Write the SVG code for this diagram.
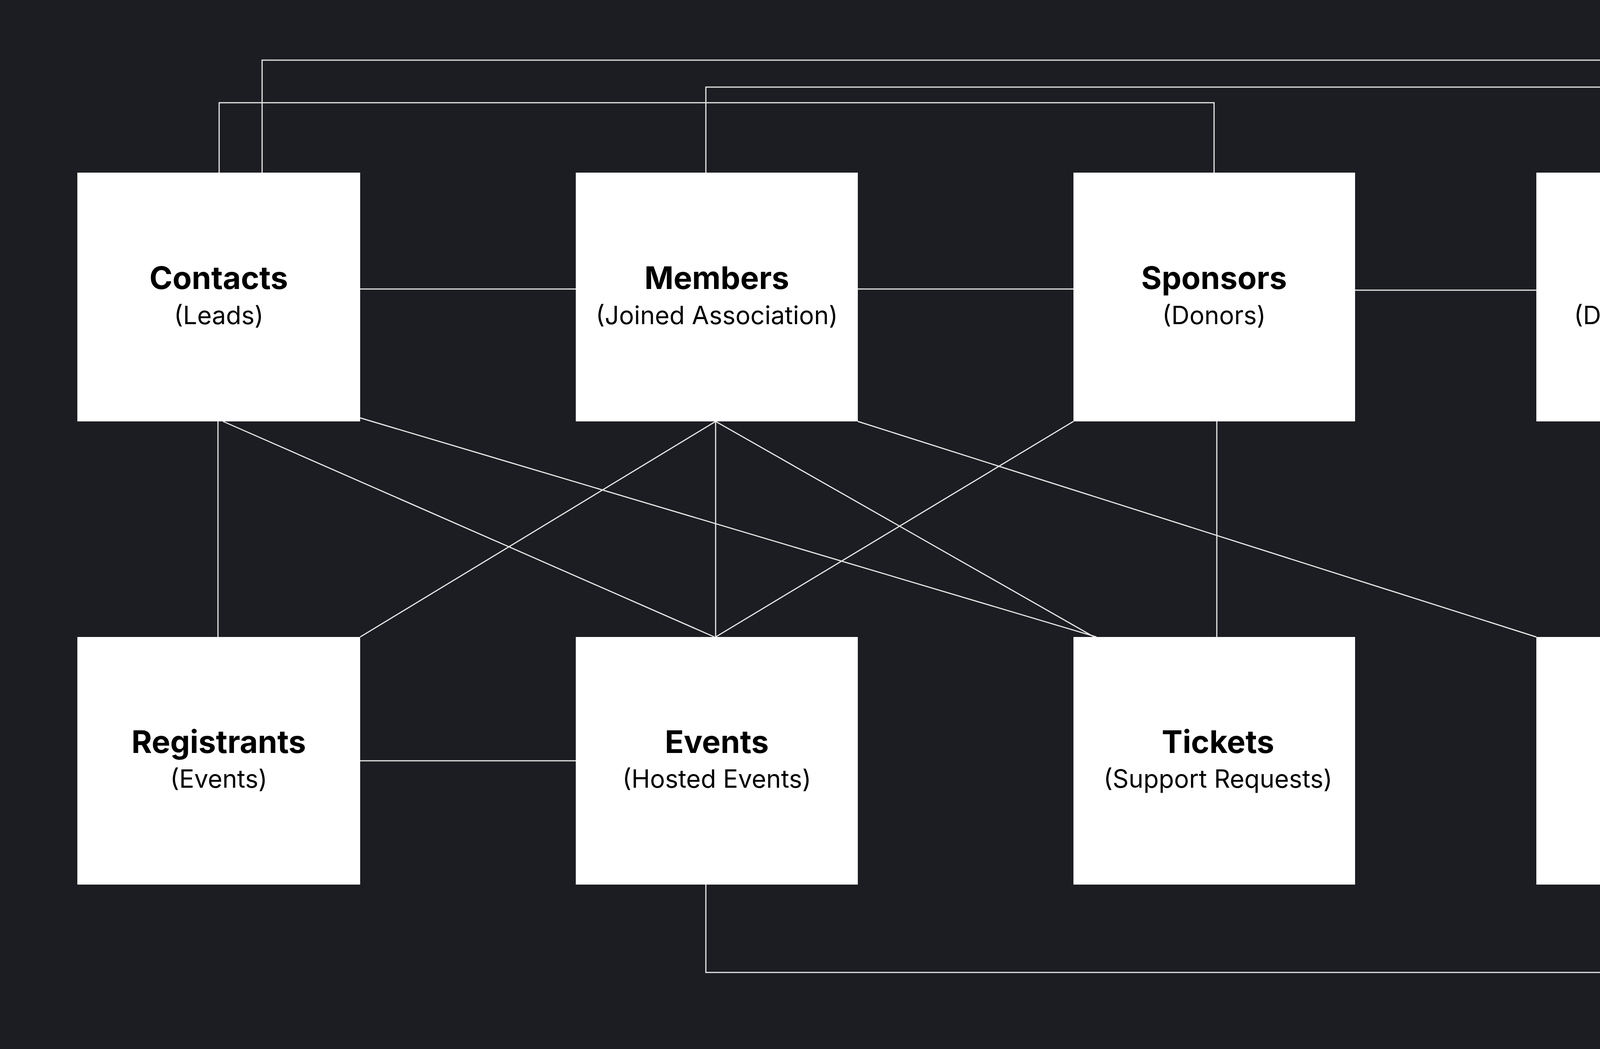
<svg xmlns="http://www.w3.org/2000/svg" width="4918" height="2686" viewBox="0 0 4918 2686">
<style>
.n{fill:#ffffff}
.t{font-family:Inter,"Noto Sans",sans-serif;font-weight:700;font-size:80px;fill:#000;text-anchor:middle}
.s{font-family:Inter,"Noto Sans",sans-serif;font-size:64px;fill:#000;text-anchor:middle}
.c line,.c polyline{stroke:#e6e6e6;stroke-width:3;fill:none}
</style>
<rect width="4918" height="2686" fill="#1c1d22"/>
<g class="c" id="connectors">
<line x1="922" y1="740" x2="1474" y2="740"/>
<line x1="2196" y1="740" x2="2748" y2="740"/>
<line x1="3469" y1="743" x2="3933" y2="743"/>
<line x1="922" y1="1948" x2="1474" y2="1948"/>
<polyline points="561,442 561,263 3108,263 3108,442"/>
<polyline points="671,442 671,154 4162,154 4162,442"/>
<polyline points="1807,442 1807,223 4294,223 4294,442"/>
<polyline points="1807,2265 1807,2490 4291,2490 4291,2265"/>
<line x1="558" y1="1079" x2="558" y2="1631"/>
<line x1="571" y1="1079" x2="1829" y2="1631"/>
<line x1="922" y1="1070" x2="2807" y2="1631"/>
<line x1="1832" y1="1079" x2="922" y2="1631"/>
<line x1="1832" y1="1079" x2="1832" y2="1631"/>
<line x1="1832" y1="1079" x2="2801" y2="1631"/>
<line x1="2748" y1="1079" x2="1832" y2="1631"/>
<line x1="2196" y1="1079" x2="3933" y2="1631"/>
<line x1="3115" y1="1079" x2="3115" y2="1631"/>
<line x1="4291" y1="1079" x2="4291" y2="1631"/>
</g>
<g id="contacts"><rect class="n" x="198" y="442" width="724" height="637"/><text class="t" x="560" y="740">Contacts</text><text class="s" x="560" y="830">(Leads)</text></g>
<g id="members"><rect class="n" x="1474" y="442" width="722" height="637"/><text class="t" x="1835" y="740">Members</text><text class="s" x="1835" y="830">(Joined Association)</text></g>
<g id="sponsors"><rect class="n" x="2748" y="442" width="721" height="637"/><text class="t" x="3108" y="740">Sponsors</text><text class="s" x="3108" y="830">(Donors)</text></g>
<g id="payments"><rect class="n" x="3933" y="442" width="722" height="637"/><text class="t" x="4294" y="740">Payments</text><text class="s" x="4294" y="830">(Dues/Donations)</text></g>
<g id="registrants"><rect class="n" x="198" y="1631" width="724" height="634"/><text class="t" x="560" y="1928">Registrants</text><text class="s" x="560" y="2017">(Events)</text></g>
<g id="events"><rect class="n" x="1474" y="1631" width="722" height="634"/><text class="t" x="1835" y="1928">Events</text><text class="s" x="1835" y="2017">(Hosted Events)</text></g>
<g id="tickets"><rect class="n" x="2748" y="1631" width="721" height="634"/><text class="t" x="3118" y="1928">Tickets</text><text class="s" x="3118" y="2017">(Support Requests)</text></g>
<g id="courses"><rect class="n" x="3933" y="1631" width="722" height="634"/><text class="t" x="4294" y="1928">Courses</text><text class="s" x="4294" y="2017">(Trainings)</text></g>
</svg>
